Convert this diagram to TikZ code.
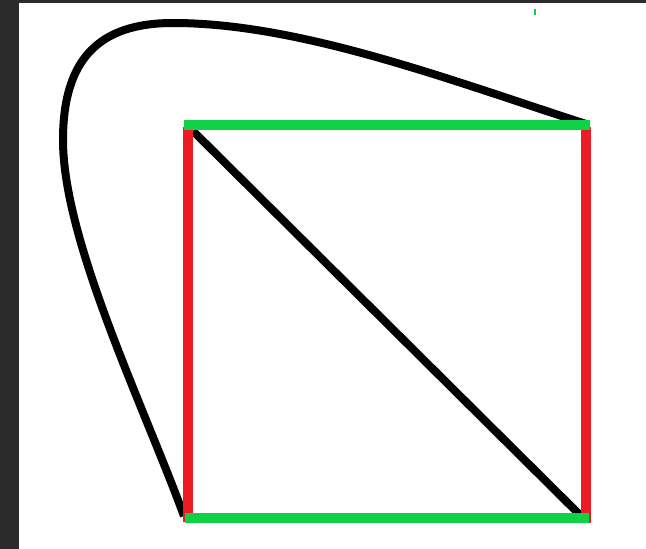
\documentclass[tikz,border=0pt]{standalone}
\begin{document}
\begin{tikzpicture}[x=1pt,y=-1pt,
  redbar/.style={draw={rgb,255:red,237;green,28;blue,36},line width=10pt},
  greenbar/.style={draw={rgb,255:red,14;green,209;blue,69},line width=10pt},
  blackline/.style={draw=black,line width=8pt}]
\fill[fill={rgb,255:red,43;green,43;blue,43}] (0,0) rectangle (646,549);
\fill[white] (19,3) rectangle (646,549);
\useasboundingbox (0,0) rectangle (646,549);
% corners
\coordinate (cs) at (184,516);
\coordinate (ce) at (586,124);
\coordinate (dA) at (193,131);
\coordinate (dB) at (581,516);
% curve
\draw[blackline] (cs) .. controls (142,402) and (63,240) .. (63,140)
  .. controls (63,58) and (100,23) .. (173,23)
  .. controls (300,23) and (450,80) .. (ce);
% diagonal
\draw[blackline] (dA) -- (dB);
% red sides
\draw[redbar] (188,127) -- (188,522);
\draw[redbar] (586,127) -- (586,523);
% green top and bottom
\draw[greenbar] (184,125) -- (590,125);
\draw[greenbar] (185,518) -- (589,518);
% small green tick
\draw[greenbar,line width=2pt] (535,9) -- (535,15);
\end{tikzpicture}
\end{document}
